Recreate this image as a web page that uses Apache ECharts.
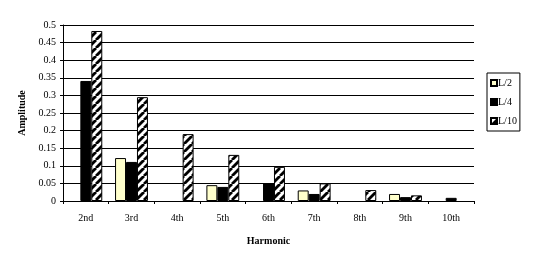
<!DOCTYPE html>
<html>
<head>
<meta charset="utf-8">
<script src="https://cdn.jsdelivr.net/npm/echarts@6/dist/echarts.min.js"></script>
<style>html,body{margin:0;padding:0;background:#fff}#c{width:534px;height:262px}</style>
</head>
<body>
<div id="c"></div>
<script>
const categories = ['2nd','3rd','4th','5th','6th','7th','8th','9th','10th'];
const seriesNames = ['L/2','L/4','L/10'];
const valuesL2  = [0, 0.122, 0, 0.045, 0, 0.030, 0, 0.020, 0];
const valuesL4  = [0.341, 0.111, 0, 0.040, 0.051, 0.020, 0, 0.011, 0.009];
const valuesL10 = [0.483, 0.295, 0.190, 0.131, 0.097, 0.050, 0.031, 0.016, 0];
const yTicks = [0, 0.05, 0.1, 0.15, 0.2, 0.25, 0.3, 0.35, 0.4, 0.45, 0.5];

function stripePattern() {
  const c = document.createElement('canvas');
  c.width = 8; c.height = 8;
  const g = c.getContext('2d');
  g.fillStyle = '#fff'; g.fillRect(0,0,8,8);
  g.strokeStyle = '#000'; g.lineWidth = 2.8;
  for (const o of [-8, 0, 8]) {
    g.beginPath(); g.moveTo(o, 8); g.lineTo(o + 8, 0); g.stroke();
  }
  return c;
}
const noZero = arr => arr.map(v => v === 0 ? '-' : v);

const font = 'Liberation Serif';
const chart = echarts.init(document.getElementById('c'));
const border = {borderColor:'#000', borderWidth:1};
chart.setOption({
  animation:false,
  backgroundColor:'#fff',
  grid:{left:63, right:60, top:25, bottom:61},
  legend:{
    orient:'vertical', left:487, top:73,
    borderColor:'#000', borderWidth:1, padding:[5,3,5,3],
    itemWidth:6, itemHeight:6, itemGap:9, icon:'rect',
    textStyle:{fontFamily:font, fontSize:10, color:'#000', padding:[0,0,0,-4]},
    data:seriesNames
  },
  xAxis:{
    type:'category', data:categories,
    name:'Harmonic', nameLocation:'middle', nameGap:35,
    nameTextStyle:{fontFamily:font, fontSize:10, fontWeight:'bold', color:'#000'},
    axisLine:{lineStyle:{color:'#000', width:1}},
    axisTick:{show:true, length:3, lineStyle:{color:'#000'}},
    axisLabel:{fontFamily:font, fontSize:10, color:'#000', margin:12},
    splitLine:{show:false}
  },
  yAxis:{
    type:'value', min:0, max:0.5, interval:0.05,
    name:'Amplitude', nameLocation:'middle', nameGap:36, nameRotate:90,
    nameTextStyle:{fontFamily:font, fontSize:10, fontWeight:'bold', color:'#000'},
    axisLine:{show:true, lineStyle:{color:'#000', width:1}},
    axisTick:{show:true, length:3, lineStyle:{color:'#000'}},
    axisLabel:{fontFamily:font, fontSize:10, color:'#000', margin:7,
      formatter:v => { const t = yTicks.find(x => Math.abs(x - v) < 1e-9); return String(t !== undefined ? t : v); }},
    splitLine:{show:true, lineStyle:{color:'#000', width:1}}
  },
  series:[
    {name:seriesNames[0], type:'bar', data:noZero(valuesL2), barGap:'0%', barCategoryGap:'28%',
     itemStyle:Object.assign({color:'#FFFFCC'}, border)},
    {name:seriesNames[1], type:'bar', data:noZero(valuesL4), barGap:'0%', barCategoryGap:'28%',
     itemStyle:Object.assign({color:'#000'}, border)},
    {name:seriesNames[2], type:'bar', data:noZero(valuesL10), barGap:'0%', barCategoryGap:'28%',
     itemStyle:Object.assign({color:{image:stripePattern(), repeat:'repeat'}}, border)}
  ]
});
</script>
</body>
</html>
